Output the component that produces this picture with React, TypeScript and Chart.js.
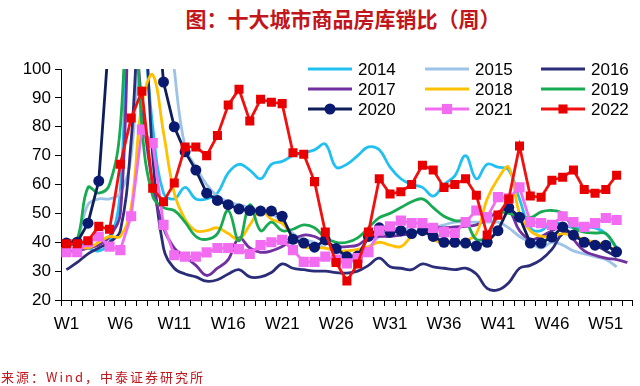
import React, { useEffect, useRef } from 'react';
import { Chart, registerables } from 'chart.js';

Chart.register(...registerables);

const weeks: string[] = Array.from({ length: 53 }, (_, i) => `W${i + 1}`);
const yearLabels = ['2014', '2015', '2016', '2017', '2018', '2019', '2020', '2021', '2022'];
const yTicks = [20, 30, 40, 50, 60, 70, 80, 90, 100];

const s2014 = [41, 40, 38, 37, 40, 58, 140, 120, 80, 57, 55, 59, 55, 55, 57, 64, 67, 65, 62, 67, 68, 70, 71, 72, 74, 66, 67, 70, 73, 72, 66, 62, 60, 59, 56, 60, 63, 70, 62, 67, 66, 65, 55, 45, 44, 47, 46, 45, 45, 45, 43, 38];
const s2015 = [38, 41, 53, 55, 55, 57, 70, 120, 140, 140, 100, 73, 66, 60, 56, 54, 53, 52, 51, 50, 47, 43, 41, 40, 38, 37, 35, 34, 38, 42, 44, 45, 44, 44, 45, 46, 47, 47, 47, 47, 47, 45, 42, 40, 38, 40, 39, 37, 36, 35, 34, 31.5];
const s2016 = [30.5, 33, 36, 38, 40, 44, 75, 130, 70, 38, 31, 29, 28, 26.5, 27, 29, 30.5, 28, 28, 29.5, 32.5, 31, 30.5, 30, 30, 29.5, 29.3, 30, 32, 34.5, 31.5, 31, 30.5, 32.5, 31.5, 31, 30.5, 31, 29, 24, 23.5, 26, 31, 32, 34, 37.5, 43, 43, 40, 39, 37, 35];
const s2017 = [37, 37, 38, 39, 42, 50, 125, 88, 60, 45, 38, 35, 32, 28.5, 31, 34, 41.5, 38, 36.5, 37, 38.5, 41, 42.5, 42, 40, 38.5, 38.5, 39, 41.5, 42, 42, 42.5, 43, 44, 45, 45, 45.3, 45.5, 46, 48, 50.5, 51, 44, 41, 42, 44, 45.3, 41, 37, 35.5, 34.5, 34, 33];
const s2018 = [40, 39, 38, 40, 42, 42, 52, 88, 98, 78, 57, 48, 44, 44, 45, 43, 41, 46, 51, 48, 46.5, 42, 38.5, 38, 38, 37, 37, 37.5, 38.5, 40, 39, 38.5, 42, 44, 41, 39.5, 39.5, 40.5, 43, 55, 62, 66, 50, 44, 42, 42, 43, 42, 41, 40, 39, 37];
const s2019 = [38, 41, 59, 57, 60, 80, 150, 80, 56, 52, 51, 47, 42, 41, 43, 51, 40.5, 53, 44, 47, 44, 44.5, 46, 45, 41.5, 40, 40, 41.5, 45, 48.5, 50, 52, 54, 55, 52, 49, 47.5, 47, 41, 42, 50, 50, 49, 48.5, 50.5, 51, 50, 45, 43.5, 43.2, 43, 38];
const s2020 = [39.7, 40, 46.6, 61.2, 114, 140, 140, 140, 140, 95.5, 80, 71.3, 65, 57, 54.5, 53, 51.5, 51, 50.8, 50.8, 49, 41, 39.7, 38.3, 40.8, 37.8, 35, 35.2, 42, 45, 43.5, 44, 43, 44, 42, 40, 40, 39.7, 38.7, 40, 44, 52, 48.7, 39.7, 39.7, 41.8, 45.3, 42.5, 40, 39, 39, 36.7];
const s2021 = [36.6, 36.6, 40, 42, 38.5, 37.3, 49, 79, 74.3, 46, 35.5, 35, 35, 36.5, 38, 38, 37.6, 36, 39, 40, 40.8, 37.3, 33.2, 33.2, 35, 34, 32.7, 34.5, 36.6, 44, 45.5, 47.5, 46.6, 46.6, 45, 43.5, 43.2, 47, 51, 48.7, 55.6, 55.2, 59, 47, 46.6, 46, 49, 47, 45.3, 46.6, 48.4, 47.7];
const s2022 = [39.5, 39.5, 40.5, 45.5, 44.5, 67, 83, 92.3, 58.7, 54, 60.5, 73, 73, 70, 77, 87.5, 93, 82, 89.5, 88.5, 88, 71, 70.5, 61, 43.5, 33, 26.6, 32.5, 43.5, 62, 56.7, 57.5, 60, 66.7, 65, 59, 60, 62, 56.3, 42.5, 49.4, 55, 73.3, 56, 55.6, 61.5, 62.5, 65, 58.3, 57, 58.3, 63.2];

const seriesValues = [s2014, s2015, s2016, s2017, s2018, s2019, s2020, s2021, s2022];
const seriesColors = ['#22C0F0', '#9DC3E6', '#2B2D78', '#7030A0', '#FFC000', '#18AA52', '#0E1E5B', '#F26CF2', '#F01010'];
const markerColors = ['', '', '', '', '', '', '#0A1A70', '#F26CF2', '#E80000'];
const markerStyles: (string | false)[] = [false, false, false, false, false, false, 'circle', 'rect', 'rect'];
const markerRadius = [0, 0, 0, 0, 0, 0, 5.5, 7.2, 6.4];

const legendPlugin = {
  id: 'gridLegend',
  afterDraw(chart: any) {
    const ctx = chart.ctx;
    const cols = [308, 425, 541];
    const rows = [69, 89, 109];
    chart.data.datasets.forEach((ds: any, i: number) => {
      const x = cols[i % 3];
      const y = rows[Math.floor(i / 3)];
      ctx.save();
      ctx.strokeStyle = ds.borderColor;
      ctx.lineWidth = 3;
      ctx.beginPath();
      ctx.moveTo(x, y);
      ctx.lineTo(x + 44, y);
      ctx.stroke();
      const st = markerStyles[i];
      if (st) {
        ctx.fillStyle = markerColors[i];
        const cx = x + 22;
        if (st === 'circle') {
          ctx.beginPath();
          ctx.arc(cx, y, 5.5, 0, Math.PI * 2);
          ctx.fill();
        } else {
          const h = markerRadius[i] * Math.SQRT1_2;
          ctx.fillRect(cx - h, y - h, 2 * h, 2 * h);
        }
      }
      ctx.fillStyle = '#000';
      ctx.font = '17px "Liberation Sans", Arial, sans-serif';
      ctx.textBaseline = 'middle';
      ctx.textAlign = 'left';
      ctx.fillText(ds.label, x + 50, y + 1);
      ctx.restore();
    });
  },
};

export default function App() {
  const ref = useRef<HTMLCanvasElement | null>(null);

  useEffect(() => {
    if (!ref.current) return;
    const datasets = seriesValues.map((vals, i) => ({
      label: yearLabels[i],
      data: vals,
      borderColor: seriesColors[i],
      backgroundColor: markerStyles[i] ? markerColors[i] : seriesColors[i],
      borderWidth: 2.8,
      tension: markerStyles[i] ? 0 : 0.4,
      pointStyle: markerStyles[i] || 'circle',
      pointRadius: markerRadius[i],
      pointBorderWidth: 0,
      pointBackgroundColor: markerStyles[i] ? markerColors[i] : seriesColors[i],
      fill: false,
      order: 9 - i,
      clip: { left: 10, right: 10, top: 0, bottom: 0 },
    }));
    const font = { family: '"Liberation Sans", Arial, sans-serif', size: 17 };
    const chart = new Chart(ref.current, {
      type: 'line',
      data: { labels: weeks, datasets },
      options: {
        animation: false,
        responsive: false,
        events: [],
        layout: { padding: { top: 69, right: 4, bottom: 46, left: 0 } },
        plugins: {
          legend: { display: false },
          title: { display: false },
          tooltip: { enabled: false },
        },
        scales: {
          x: {
            type: 'category',
            offset: true,
            grid: { offset: true, drawOnChartArea: false, drawTicks: true, tickLength: 6, color: '#000', lineWidth: 1 },
            border: { display: true, color: '#000', width: 1 },
            ticks: {
              autoSkip: false,
              maxRotation: 0,
              minRotation: 0,
              padding: 8,
              color: '#000',
              font,
              callback: (_v: any, i: number) => (i % 5 === 0 ? weeks[i] : ''),
            },
            afterFit: (s: any) => {
              s.height = 40;
            },
          },
          y: {
            min: 20,
            max: 100,
            afterBuildTicks: (s: any) => {
              s.ticks = yTicks.map((v) => ({ value: v }));
            },
            grid: { drawOnChartArea: false, drawTicks: true, tickLength: 6, color: '#000', lineWidth: 1 },
            border: { display: true, color: '#000', width: 1 },
            ticks: { padding: 4, color: '#000', font },
            afterFit: (s: any) => {
              s.width = 61;
            },
          },
        },
      },
      plugins: [legendPlugin],
    } as any);
    return () => chart.destroy();
  }, []);

  return (
    <div style={{ position: 'fixed', left: 0, top: 0, width: 640, height: 386, background: '#fff' }}>
      <div
        style={{
          position: 'absolute',
          left: 0,
          width: 686,
          top: 6,
          textAlign: 'center',
          fontFamily: '"Noto Sans CJK SC", sans-serif',
          fontWeight: 700,
          fontSize: 21,
          lineHeight: '24px',
          color: '#C0161C',
          whiteSpace: 'nowrap',
        }}
      >
        图：十大城市商品房库销比（周）
      </div>
      <canvas ref={ref} width={640} height={386} style={{ position: 'absolute', left: 0, top: 0, width: 640, height: 386 }} />
      <div
        style={{
          position: 'absolute',
          left: 1,
          top: 369,
          fontFamily: '"Noto Sans CJK SC", sans-serif',
          fontSize: 13,
          lineHeight: '16px',
          color: '#C0161C',
          whiteSpace: 'nowrap',
          letterSpacing: 2,
        }}
      >
        来源：Wind，中泰证券研究所
      </div>
    </div>
  );
}
